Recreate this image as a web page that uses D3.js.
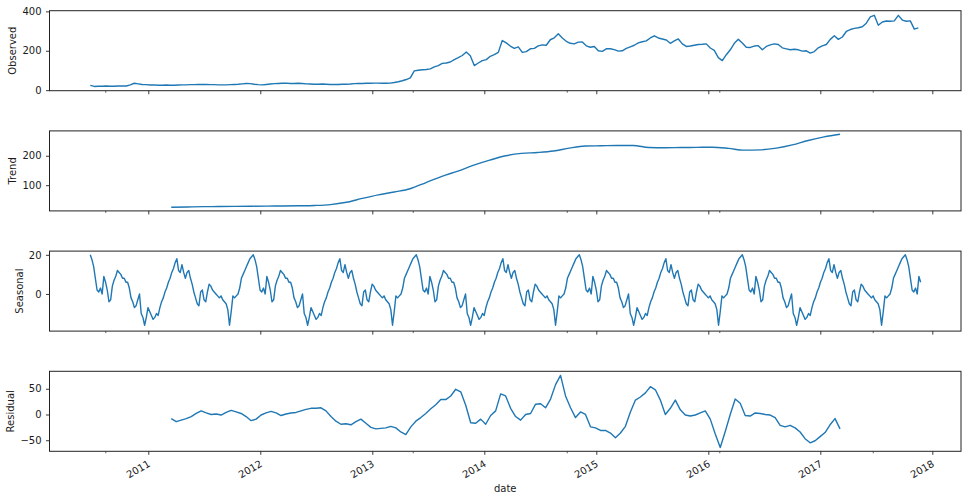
<!DOCTYPE html>
<html>
<head>
<meta charset="utf-8">
<script src="https://cdn.jsdelivr.net/npm/d3@7"></script>
<style>
  body { margin: 0; background: #fff; }
  svg { display: block; }
  text { font-family: "DejaVu Sans", sans-serif; fill: #1a1a1a; }
</style>
</head>
<body>
<svg id="chart" width="972" height="501"></svg>
<script>
// ---------------- DATA (times are decimal years) ----------------
const panelNames = ["Observed", "Trend", "Seasonal", "Residual"];

// Observed: regular samples, first at observedStart, one every observedStep years
const observedStart = 2010.482;
const observedStep = 1 / 28;
const observed = [
  24,19,20,20,21,20,20,21,21,21, 27,35,32,29,28,26,27,25,25,26,
  25,25,26,27,27,28,28,29,29,29, 28,28,27,27,27,28,29,30,32,34,
  33,30,28,27,29,31,33,34,35,36, 34,34,35,34,32,31,30,30,31,30,
  29,29,29,30,30,31,33,34,34,35, 35,36,36,35,35,36,39,43,48,54,
  62,98,101,104,105,108,118,125,136,138, 143,155,165,176,194,175,125,138,150,155,
  172,180,192,252,240,224,212,220,192,196, 210,212,225,230,228,256,266,286,265,248,
  238,235,244,245,225,218,222,200,197,210, 210,206,198,200,212,220,228,240,246,250,
  265,276,265,260,255,238,250,260,235,222, 224,228,232,233,235,214,202,165,150,180,
  205,238,258,240,218,217,224,226,205,222, 230,235,232,215,210,205,208,205,198,200,
  188,196,215,225,232,258,276,258,270,298, 308,314,317,322,340,372,380,330,346,351,
  350,352,380,356,350,352,310,316
];

// Trend: evenly spaced samples between trendStart and trendEnd
const trendStart = 2011.205;
const trendEnd = 2017.176;
const trend = [
  25,26,27,27.5,28,28.5,29,29.5,30,31,34,42,55,67,77,88,109,130,148,168,
  185,200,208,211,216,226,233,234,235,235,228,227,228,228.5,229,225,219,220,226,237,
  252,264,273
];

// Seasonal: one cycle (365 trading days ≈ seasonalPeriod years), repeated over the series span
const seasonalStart = 2010.482;
const seasonalEnd = 2017.896;
const seasonalPeriod = 1.4554;
const seasonalCycle = [
  20,17.5,14,8,2,1,3,0,9,6, 2,-4,-3,4,7,9,12,11,10,8,
  8,6,6,3,-2,-4,-7,-6,-3,0, -10,-12,-16,-12,-7,-9,-11,-13,-12,-10,
  -11,-7,-4,-2,1,3,6,8,11,13, 16,18,12,11,15,11,8,11,12,8,
  5,1,-2,-5,-6,1,2,-3,-4,1, 5,4,2,1,0,-1,-2,-1,-3,-4,
  -5,-8,-16,-9,-1,-2,-1,0,3,8, 10,12,14,16,18,19
];

// Residual: evenly spaced samples between residStart and residEnd
const residStart = 2011.205;
const residEnd = 2017.176;
const residual = [
  -8,-14,-11,-8,-4,2,7,3,0,1, -1,4,8,5,2,-4,-12,-9,-1,3,
  6,3,-2,1,3,4,7,10,12,12, 13,7,-4,-13,-19,-18,-20,-14,-9,-17,
  -25,-28,-27,-26,-23,-26,-34,-39,-24,-13, -6,2,11,19,29,29,36,49,44,18,
  -16,-17,-9,-19,-2,7,40,36,12,-4, -11,0,2,20,21,13,30,58,76,36,
  13,-6,5,0,-24,-26,-31,-31,-36,-45, -36,-23,5,28,34,42,54,48,28,0,
  12,28,9,-1,-3,-1,3,7,-9,-38, -64,-33,0,30,22,-2,-3,3,2,0,
  -1,-6,-21,-24,-21,-26,-34,-47,-55,-51, -43,-35,-20,-8,-28
];

// Axes
const xDomain = [2010.118, 2018.256];
const xMajorTicks = [2011, 2012, 2013, 2014, 2015, 2016, 2017, 2018];
const xMinorTicks = [2010.616, 2013.361, 2014.736, 2016.098, 2017.468];
const yTicks = [[0, 200, 400], [100, 200], [0, 20], [-50, 0, 50]];
const yLimits = [[-2.7, 403.5], [12.6, 284.5], [-19, 21.9], [-71.5, 83.9]];
const xLabel = "date";

// ---------------- BUILD SERIES ----------------
function evenly(start, end, vals) {
  const n = vals.length;
  return vals.map((v, i) => ({ t: start + (end - start) * i / (n - 1), v }));
}
const seasonalStep = seasonalPeriod / seasonalCycle.length;
const seasonalCount = Math.floor((seasonalEnd - seasonalStart) / seasonalStep) + 1;
const seasonalSeries = d3.range(seasonalCount).map(i => ({
  t: seasonalStart + i * seasonalStep,
  v: seasonalCycle[i % seasonalCycle.length]
}));

const series = [
  observed.map((v, i) => ({ t: observedStart + i * observedStep, v })),
  evenly(trendStart, trendEnd, trend),
  seasonalSeries,
  evenly(residStart, residEnd, residual)
];

// ---------------- LAYOUT ----------------
const left = 49.5, right = 961;
const panelTop0 = 10.7, panelGap = 120.2, panelH = 80;
const fontSize = 10;
const color = "#1f77b4";

const svg = d3.select("#chart");
const x = d3.scaleLinear().domain(xDomain).range([left, right]);

panelNames.forEach((name, i) => {
  const top = panelTop0 + i * panelGap;
  const bottom = top + panelH;
  const y = d3.scaleLinear().domain(yLimits[i]).range([bottom, top]);
  const g = svg.append("g");

  const line = d3.line()
    .x(d => x(d.t))
    .y(d => y(d.v));
  if (i === 1) line.curve(d3.curveMonotoneX);

  g.append("defs").append("clipPath").attr("id", "clip" + i)
    .append("rect").attr("x", left).attr("y", top).attr("width", right - left).attr("height", panelH);

  g.append("path")
    .datum(series[i])
    .attr("clip-path", `url(#clip${i})`)
    .attr("fill", "none")
    .attr("stroke", color)
    .attr("stroke-width", 1.4)
    .attr("stroke-linejoin", "round")
    .attr("d", line);

  // y axis
  const ya = g.append("g")
    .attr("transform", `translate(${left},0)`)
    .call(d3.axisLeft(y).tickValues(yTicks[i]).tickSize(3.5).tickPadding(4.5));
  ya.select(".domain").remove();
  ya.selectAll("line").attr("stroke", "#222").attr("stroke-width", 0.9);
  ya.selectAll("text").attr("font-size", fontSize).attr("font-family", "DejaVu Sans").attr("fill", "#1a1a1a");

  // x axis major ticks
  const xa = g.append("g")
    .attr("transform", `translate(0,${bottom})`)
    .call(d3.axisBottom(x).tickValues(xMajorTicks).tickSize(3.5).tickFormat(""));
  xa.select(".domain").remove();
  xa.selectAll("line").attr("stroke", "#222").attr("stroke-width", 0.9);
  xa.selectAll("text").remove();

  // x axis minor ticks
  const xm = g.append("g")
    .attr("transform", `translate(0,${bottom})`)
    .call(d3.axisBottom(x).tickValues(xMinorTicks).tickSize(2).tickFormat(""));
  xm.select(".domain").remove();
  xm.selectAll("line").attr("stroke", "#222").attr("stroke-width", 0.7);
  xm.selectAll("text").remove();

  // frame
  g.append("rect")
    .attr("x", left).attr("y", top)
    .attr("width", right - left).attr("height", panelH)
    .attr("fill", "none").attr("stroke", "#222").attr("stroke-width", 1);

  // y label, placed left of the widest tick label
  let minLeft = Infinity;
  ya.selectAll("text").each(function () {
    const w = this.getComputedTextLength();
    minLeft = Math.min(minLeft, left - 3.5 - 4.5 - w);
  });
  const cx = minLeft - 9.5;
  g.append("text")
    .attr("transform", `translate(${cx},${(top + bottom) / 2}) rotate(-90)`)
    .attr("text-anchor", "middle")
    .attr("dy", "0.35em")
    .attr("font-size", fontSize)
    .text(name);

  // rotated year labels on the bottom panel
  if (i === panelNames.length - 1) {
    g.selectAll("text.xl")
      .data(xMajorTicks)
      .join("text")
      .attr("class", "xl")
      .attr("transform", d => `translate(${x(d) - 1},${bottom + 8}) rotate(-30)`)
      .attr("text-anchor", "end")
      .attr("dy", "0.75em")
      .attr("font-size", fontSize)
      .text(d => d3.format("d")(d));

    g.append("text")
      .attr("x", (left + right) / 2)
      .attr("y", 491.5)
      .attr("text-anchor", "middle")
      .attr("font-size", fontSize)
      .text(xLabel);
  }
});
</script>
</body>
</html>
